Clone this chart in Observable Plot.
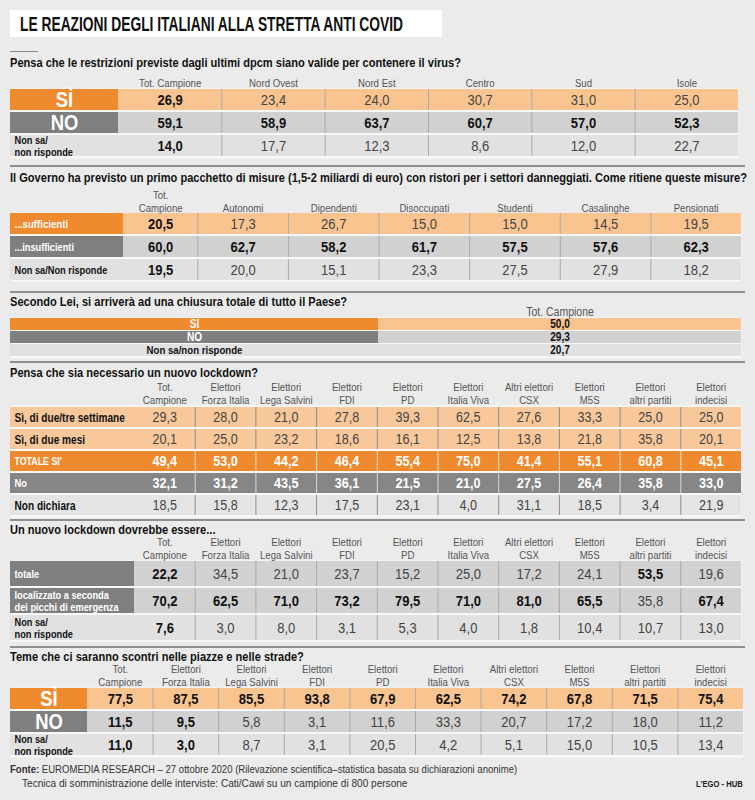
<!DOCTYPE html>
<html><head><meta charset="utf-8">
<script src="https://cdn.jsdelivr.net/npm/d3@7"></script>
<script src="https://cdn.jsdelivr.net/npm/@observablehq/plot@0.6"></script>
<style>
html,body{margin:0;padding:0;background:#ebebeb;}
#page{position:relative;width:755px;height:800px;overflow:hidden;background:#ebebeb;
 font-family:"Liberation Sans",Arial,sans-serif;color:#111;}
.q{position:absolute;left:10px;font-weight:bold;font-size:13.5px;line-height:16px;white-space:nowrap;color:#111;
 transform:scaleX(0.82);transform-origin:0 0;}
.sep{position:absolute;left:10px;width:735px;height:2px;background:#8e8e8e;}
.cond{display:inline-block;transform-origin:0 0;white-space:nowrap;}
</style></head><body><div id="page"></div>
<script>
// ---------------- DATA ----------------
const title = "LE REAZIONI DEGLI ITALIANI ALLA STRETTA ANTI COVID";

const q1Question = "Pensa che le restrizioni previste dagli ultimi dpcm siano valide per contenere il virus?";
const q1Columns = ["Tot. Campione", "Nord Ovest", "Nord Est", "Centro", "Sud", "Isole"];
const q1Rows = ["SÌ", "NO", "Non sa/\nnon risponde"];
const q1Si = [26.9, 23.4, 24.0, 30.7, 31.0, 25.0];
const q1No = [59.1, 58.9, 63.7, 60.7, 57.0, 52.3];
const q1NonSa = [14.0, 17.7, 12.3, 8.6, 12.0, 22.7];

const q2Question = "Il Governo ha previsto un primo pacchetto di misure (1,5-2 miliardi di euro) con ristori per i settori danneggiati. Come ritiene queste misure?";
const q2Columns = ["Tot.\nCampione", "Autonomi", "Dipendenti", "Disoccupati", "Studenti", "Casalinghe", "Pensionati"];
const q2Rows = ["...sufficienti", "...insufficienti", "Non sa/Non risponde"];
const q2Sufficienti = [20.5, 17.3, 26.7, 15.0, 15.0, 14.5, 19.5];
const q2Insufficienti = [60.0, 62.7, 58.2, 61.7, 57.5, 57.6, 62.3];
const q2NonSa = [19.5, 20.0, 15.1, 23.3, 27.5, 27.9, 18.2];

const q3Question = "Secondo Lei, si arriverà ad una chiusura totale di tutto il Paese?";
const q3Columns = ["Tot. Campione"];
const q3Rows = ["SÌ", "NO", "Non sa/non risponde"];
const q3Values = [50.0, 29.3, 20.7];

const partyColumns = ["Tot.\nCampione", "Elettori\nForza Italia", "Elettori\nLega Salvini", "Elettori\nFDI", "Elettori\nPD",
  "Elettori\nItalia Viva", "Altri elettori\nCSX", "Elettori\nM5S", "Elettori\naltri partiti", "Elettori\nindecisi"];

const q4Question = "Pensa che sia necessario un nuovo lockdown?";
const q4Rows = ["Sì, di due/tre settimane", "Sì, di due mesi", "TOTALE SI'", "No", "Non dichiara"];
const q4DueTreSettimane = [29.3, 28.0, 21.0, 27.8, 39.3, 62.5, 27.6, 33.3, 25.0, 25.0];
const q4DueMesi = [20.1, 25.0, 23.2, 18.6, 16.1, 12.5, 13.8, 21.8, 35.8, 20.1];
const q4TotaleSi = [49.4, 53.0, 44.2, 46.4, 55.4, 75.0, 41.4, 55.1, 60.8, 45.1];
const q4No = [32.1, 31.2, 43.5, 36.1, 21.5, 21.0, 27.5, 26.4, 35.8, 33.0];
const q4NonDichiara = [18.5, 15.8, 12.3, 17.5, 23.1, 4.0, 31.1, 18.5, 3.4, 21.9];

const q5Question = "Un nuovo lockdown dovrebbe essere...";
const q5Rows = ["totale", "localizzato a seconda\ndei picchi di emergenza", "Non sa/\nnon risponde"];
const q5Totale = [22.2, 34.5, 21.0, 23.7, 15.2, 25.0, 17.2, 24.1, 53.5, 19.6];
const q5Localizzato = [70.2, 62.5, 71.0, 73.2, 79.5, 71.0, 81.0, 65.5, 35.8, 67.4];
const q5NonSa = [7.6, 3.0, 8.0, 3.1, 5.3, 4.0, 1.8, 10.4, 10.7, 13.0];

const q6Question = "Teme che ci saranno scontri nelle piazze e nelle strade?";
const q6Rows = ["SÌ", "NO", "Non sa/\nnon risponde"];
const q6Si = [77.5, 87.5, 85.5, 93.8, 67.9, 62.5, 74.2, 67.8, 71.5, 75.4];
const q6No = [11.5, 9.5, 5.8, 3.1, 11.6, 33.3, 20.7, 17.2, 18.0, 11.2];
const q6NonSa = [11.0, 3.0, 8.7, 3.1, 20.5, 4.2, 5.1, 15.0, 10.5, 13.4];

const sourceLabel = "Fonte:";
const sourceLine1 = "EUROMEDIA RESEARCH – 27 ottobre 2020 (Rilevazione scientifica–statistica basata su dichiarazioni anonime)";
const sourceLine2 = "Tecnica di somministrazione delle interviste: Cati/Cawi su un campione di 800 persone";
const brand = "L'EGO - HUB";

// ---------------- STYLES ----------------
const FONT = '"Liberation Sans",Arial,sans-serif';
const CONDENSE = 0.84;
const ORANGE = "#f08a2e", ORANGE_L = "#f9c48f", GREY_D = "#7f7f7f", GREY_M = "#d1d1d1", GREY_L = "#e1e1e1";
const ST = {
  bigSi:   {labelFill: ORANGE, labelColor: "#fff", labelSize: 22, big: true, fill: ORANGE_L, color: "#111", sep: "#a9a9a9"},
  bigNo:   {labelFill: GREY_D, labelColor: "#fff", labelSize: 22, big: true, fill: GREY_M, color: "#111", sep: "#a9a9a9"},
  nonsa:   {labelFill: GREY_L, labelColor: "#111", labelSize: 11, fill: GREY_L, color: "#111", sep: "#a9a9a9"},
  smallSi: {labelFill: ORANGE, labelColor: "#fff", labelSize: 11.5, fill: ORANGE_L, color: "#111", sep: "#a9a9a9"},
  smallNo: {labelFill: GREY_D, labelColor: "#fff", labelSize: 11, fill: GREY_M, color: "#111", sep: "#a9a9a9"},
  lightOr: {labelFill: "#f8c89a", labelColor: "#111", labelSize: 12, fill: "#f8c89a", color: "#222", sep: "#8d8d8d"},
  strongOr:{labelFill: ORANGE, labelColor: "#fff", labelSize: 10.5, fill: ORANGE, color: "#fff", sep: "#fbe0c6"},
  darkNo:  {labelFill: "#868686", labelColor: "#fff", labelSize: 11, fill: "#868686", color: "#fff", sep: "#dadada"},
  nd:      {labelFill: "#e4e4e4", labelColor: "#111", labelSize: 12, fill: "#e4e4e4", color: "#222", sep: "#8d8d8d"}
};

const fmt = v => v.toFixed(1).replace(".", ",");
const colMax = (series, ci) => Math.max(...series.map(s => s[ci]));

// horizontally condense every SVG text around its own anchor (keeps em-based y offsets)
function condense(svg, s) {
  svg.querySelectorAll("text").forEach(t => {
    const xa = t.getAttribute("x");
    let pre = "";
    if (xa !== null && /^-?[\d.]+$/.test(xa)) { pre = ` translate(${xa},0)`; t.removeAttribute("x"); }
    const ya = t.getAttribute("y");
    if (ya !== null && /^-?[\d.]+$/.test(ya)) { pre += ` translate(0,${ya})`; t.removeAttribute("y"); }
    const tr = t.getAttribute("transform") || "";
    t.setAttribute("transform", `${tr}${pre} scale(${s},1)`);
  });
  return svg;
}

// ---------------- TABLE BUILDER ----------------
function makeTable(cfg) {
  const {columns, rows, series, styles, left, labelRight, right, firstW = 1, height, marginTop,
         isBold, valueSize = 15.5, headerSize = 11.5, paddingInner = 0.07, labelCenterSmall = false} = cfg;
  const n = columns.length;
  const edges = [0];
  for (let i = 0; i < n; i++) edges.push(edges[i] + (i === 0 ? firstW : 1));
  const total = edges[n];
  const unit = (right - labelRight) / total;
  const L = (labelRight - left) / unit;
  const centers = columns.map((c, i) => (edges[i] + edges[i + 1]) / 2);

  const rowData = rows.map((r, ri) => ({row: r, ri, st: styles[ri]}));
  const cells = [];
  rows.forEach((r, ri) => series[ri].forEach((v, ci) =>
    cells.push({row: r, ri, ci, v, x: centers[ci], bold: isBold(ri, ci, v, series), st: styles[ri]})));
  const seps = [];
  rows.forEach((r, ri) => { for (let i = 1; i < n; i++) seps.push({row: r, x: edges[i], st: styles[ri]}); });

  const bigLabels = rowData.filter(d => d.st.big);
  const smallLabels = rowData.filter(d => !d.st.big);

  const svg = Plot.plot({
    width: 755, height, marginLeft: left, marginRight: 755 - right, marginTop, marginBottom: 0,
    style: {background: "transparent", overflow: "visible", fontFamily: FONT},
    x: {domain: [-L, total], axis: null},
    y: {domain: rows, axis: null, paddingInner, paddingOuter: 0},
    color: {type: "identity"},
    marks: [
      Plot.frame({fill: "#f8f8f8", stroke: null}),
      Plot.barX(rowData, {x1: () => -L, x2: () => 0, y: "row", fill: d => d.st.labelFill}),
      Plot.barX(rowData, {x1: () => 0, x2: () => total, y: "row", fill: d => d.st.fill}),
      Plot.tickX(seps, {x: "x", y: "row", stroke: d => d.st.sep, strokeWidth: 1}),
      Plot.text(bigLabels, {x: () => -L / 2, y: "row", text: "row", fill: d => d.st.labelColor,
        fontSize: d => d.st.labelSize, fontWeight: "bold", fontFamily: FONT}),
      labelCenterSmall
        ? Plot.text(smallLabels, {x: () => -L / 2, y: "row", text: "row", fill: d => d.st.labelColor,
            fontSize: d => d.st.labelSize, fontWeight: "bold", fontFamily: FONT, lineHeight: 1})
        : Plot.text(smallLabels, {x: () => -L, dx: 4, y: "row", text: "row", textAnchor: "start",
            fill: d => d.st.labelColor, fontSize: d => d.st.labelSize, fontWeight: "bold", fontFamily: FONT, lineHeight: 1.08}),
      Plot.text(cells.filter(d => d.bold), {x: "x", y: "row", text: d => fmt(d.v), fill: d => d.st.color,
        fontSize: valueSize, fontWeight: "bold", fontFamily: FONT}),
      Plot.text(cells.filter(d => !d.bold), {x: "x", y: "row", text: d => fmt(d.v),
        fill: d => d.st.color === "#fff" ? "#fff" : "#444",
        fontSize: valueSize, fontWeight: "normal", fontFamily: FONT}),
      Plot.axisX({anchor: "top", label: null, ticks: centers, tickFormat: d => columns[centers.indexOf(d)], tickSize: 0,
        tickPadding: 2, fontSize: headerSize, fill: "#555", fontFamily: FONT, lineHeight: 1.05})
    ]
  });
  return condense(svg, CONDENSE);
}

// ---------------- PAGE ----------------
const page = document.getElementById("page");
function addDiv(html, css, cls) {
  const d = document.createElement("div");
  if (cls) d.className = cls;
  d.innerHTML = html;
  d.style.cssText += css;
  page.appendChild(d);
  return d;
}
function addPlot(svg, top) {
  svg.style.position = "absolute";
  svg.style.left = "0px";
  svg.style.top = top + "px";
  page.appendChild(svg);
}

// Title
addDiv(`<span class="cond" style="transform:scaleX(0.69)">${title}</span>`,
  "position:absolute;left:10px;top:10px;width:432px;height:27px;background:#fff;padding-left:10px;box-sizing:border-box;font-weight:bold;font-size:20px;line-height:28px;color:#111;");
addDiv("", "left:10px;top:51px;width:28px;height:1px;background:#8a8a8a;", "sep");

// Q1
addDiv(q1Question, "top:55px;", "q");
addPlot(makeTable({columns: q1Columns, rows: q1Rows, series: [q1Si, q1No, q1NonSa],
  styles: [ST.bigSi, ST.bigNo, ST.nonsa], left: 10, labelRight: 118, right: 738,
  height: 88, marginTop: 18, isBold: (ri, ci, v, s) => ci === 0 || v === colMax(s, ci)}), 70);

// Q2
addDiv("", "top:165px;", "sep");
addDiv(q2Question, "top:170px;", "q");
addPlot(makeTable({columns: q2Columns, rows: q2Rows, series: [q2Sufficienti, q2Insufficienti, q2NonSa],
  styles: [ST.smallSi, ST.smallNo, ST.nonsa], left: 10, labelRight: 123, right: 741, firstW: 0.82,
  height: 95, marginTop: 27, isBold: (ri, ci, v, s) => ci === 0 || v === colMax(s, ci)}), 186);

// Q3
addDiv("", "top:291px;", "sep");
addDiv(q3Question, "top:294px;", "q");
addPlot(makeTable({columns: q3Columns, rows: q3Rows, series: q3Values.map(v => [v]),
  styles: [Object.assign({}, ST.bigSi, {labelSize: 12, big: false}), Object.assign({}, ST.bigNo, {labelSize: 12, big: false}),
           Object.assign({}, ST.nonsa, {labelSize: 11.5})],
  left: 10, labelRight: 378, right: 741, height: 55, marginTop: 14, valueSize: 12, headerSize: 12.5,
  paddingInner: 0.05, labelCenterSmall: true, isBold: () => true}), 303);

// Q4
addDiv("", "top:361px;", "sep");
addDiv(q4Question, "top:365px;", "q");
addPlot(makeTable({columns: partyColumns, rows: q4Rows,
  series: [q4DueTreSettimane, q4DueMesi, q4TotaleSi, q4No, q4NonDichiara],
  styles: [ST.lightOr, ST.lightOr, ST.strongOr, ST.darkNo, ST.nd], left: 10, labelRight: 134, right: 741,
  height: 139, marginTop: 27, valueSize: 15, isBold: (ri) => ri === 2 || ri === 3}), 378);

// Q5
addDiv("", "top:519px;", "sep");
addDiv(q5Question, "top:522px;", "q");
addPlot(makeTable({columns: partyColumns, rows: q5Rows, series: [q5Totale, q5Localizzato, q5NonSa],
  styles: [ST.smallNo, ST.smallNo, ST.nonsa], left: 10, labelRight: 134, right: 741,
  height: 108, marginTop: 27, isBold: (ri, ci, v, s) => ci === 0 || v === colMax(s, ci)}), 533);

// Q6
addDiv("", "top:646px;", "sep");
addDiv(q6Question, "top:649px;", "q");
addPlot(makeTable({columns: partyColumns, rows: q6Rows, series: [q6Si, q6No, q6NonSa],
  styles: [ST.bigSi, ST.bigNo, ST.nonsa], left: 10, labelRight: 87, right: 743,
  height: 97, marginTop: 27, isBold: (ri, ci, v, s) => ci <= 1 || v === colMax(s, ci)}), 660);

// Footer
addDiv(`<span class="cond" style="transform:scaleX(0.91)"><b>${sourceLabel}</b> ${sourceLine1}</span>`,
  "position:absolute;left:10px;top:763px;font-size:10.5px;color:#333;");
addDiv(`<span class="cond" style="transform:scaleX(0.96)">${sourceLine2}</span>`,
  "position:absolute;left:22px;top:777px;font-size:10.5px;color:#333;");
addDiv(`<span class="cond" style="transform:scaleX(0.85)">${brand}</span>`,
  "position:absolute;left:696px;top:779px;font-size:9px;font-weight:bold;color:#222;");
</script>
</body></html>
